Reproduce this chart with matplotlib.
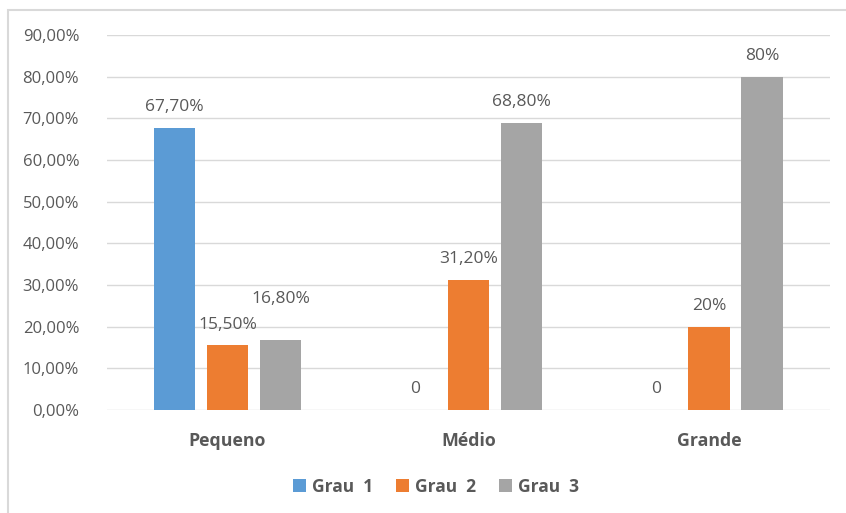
import numpy as np
import matplotlib
matplotlib.use("Agg")
from matplotlib import pyplot as plt
from matplotlib.patches import Rectangle

categories = ["Pequeno", "Médio", "Grande"]
series_names = ["Grau  1", "Grau  2", "Grau  3"]
grau1 = [0.677, 0.0, 0.0]
grau2 = [0.155, 0.312, 0.20]
grau3 = [0.168, 0.688, 0.80]
label1 = ["67,70%", "0", "0"]
label2 = ["15,50%", "31,20%", "20%"]
label3 = ["16,80%", "68,80%", "80%"]
yticks = [0.0, 0.1, 0.2, 0.3, 0.4, 0.5, 0.6, 0.7, 0.8, 0.9]
ytick_labels = ["0,00%", "10,00%", "20,00%", "30,00%", "40,00%",
                "50,00%", "60,00%", "70,00%", "80,00%", "90,00%"]

colors = ["#5b9bd5", "#ed7d31", "#a5a5a5"]
txt = "#595959"

plt.rcParams['font.family'] = ['Open Sans', 'DejaVu Sans']

fig = plt.figure(figsize=(8.46, 5.13), dpi=100)
ax = fig.add_axes([0.1265, 0.2008, 0.8545, 0.731])

x = np.arange(len(categories))
w = 0.174
step = 0.22
for k, (vals, labs) in enumerate(zip([grau1, grau2, grau3], [label1, label2, label3])):
    pos = x + (k - 1) * step
    ax.bar(pos, vals, width=w, color=colors[k], label=series_names[k], zorder=3)
    for p, v, l in zip(pos, vals, labs):
        # the Pequeno/Grau 3 label was nudged up in the original to avoid overlap
        extra = 0.048 if l == "16,80%" else 0.0
        ax.text(p, v + 0.05 + extra, l, ha='center', va='center', fontsize=12.5, color=txt)

ax.set_xlim(-0.5, 2.5)
ax.set_ylim(0, 0.9)
ax.set_yticks(yticks)
ax.set_yticklabels(ytick_labels, fontsize=12, color=txt)
ax.set_xticks(x)
ax.set_xticklabels(categories, fontsize=12.8, fontweight='bold', color=txt)
ax.tick_params(axis='both', length=0)
ax.tick_params(axis='y', pad=20)
ax.tick_params(axis='x', pad=16)
ax.grid(axis='y', color='#d9d9d9', linewidth=1, zorder=0)
for s in ax.spines.values():
    s.set_visible(False)

leg = ax.legend(loc='center', bbox_to_anchor=(0.455, -0.205), ncol=3,
                frameon=False, fontsize=12.5, handlelength=0.75, handleheight=0.75,
                handletextpad=0.35, columnspacing=1.3)
for t in leg.get_texts():
    t.set_color(txt)
    t.set_fontweight('bold')

# outer chart frame (cut off at right and bottom)
fig.patches.append(Rectangle((8 / 846, -0.1), 1.2, 0.1 + 1 - 10 / 513,
                             transform=fig.transFigure, fill=False,
                             edgecolor='#d9d9d9', linewidth=1.5))

fig.savefig("out.png", dpi=100)
